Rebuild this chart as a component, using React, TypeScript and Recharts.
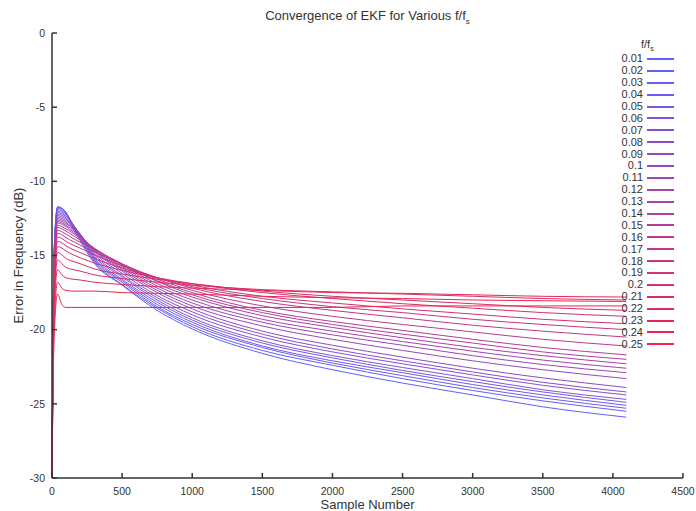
import React from "react";
import { LineChart, Line, XAxis, YAxis, Legend } from "recharts";

const sampleX = [0, 15, 40, 70, 100, 150, 200, 300, 500, 750, 1000, 1500, 2000, 2500, 3000, 3500, 4096];

const ratioLabels = [
  "0.01", "0.02", "0.03", "0.04", "0.05", "0.06", "0.07", "0.08", "0.09", "0.1",
  "0.11", "0.12", "0.13", "0.14", "0.15", "0.16", "0.17", "0.18", "0.19", "0.2",
  "0.21", "0.22", "0.23", "0.24", "0.25",
];

const err01 = [-30, -14.7, -11.7, -11.8, -12.1, -13.1, -14.0, -15.5, -17.0, -18.7, -19.95, -21.6, -22.7, -23.6, -24.4, -25.2, -25.9];
const err02 = [-30, -14.75, -11.75, -11.85, -12.1, -13.0, -13.85, -15.4, -16.95, -18.55, -19.8, -21.4, -22.4, -23.3, -24.1, -24.8, -25.5];
const err03 = [-30, -14.8, -11.8, -11.9, -12.15, -12.95, -13.75, -15.3, -16.8, -18.45, -19.65, -21.2, -22.25, -23.1, -23.9, -24.6, -25.3];
const err04 = [-30, -14.9, -11.9, -12.0, -12.2, -12.9, -13.65, -15.2, -16.7, -18.3, -19.5, -21.1, -22.1, -22.9, -23.7, -24.4, -25.1];
const err05 = [-30, -15.0, -12.0, -12.1, -12.3, -12.9, -13.6, -15.1, -16.6, -18.15, -19.35, -20.9, -21.9, -22.75, -23.5, -24.2, -24.9];
const err06 = [-30, -15.1, -12.1, -12.2, -12.35, -12.95, -13.55, -15.0, -16.45, -18.0, -19.2, -20.75, -21.75, -22.55, -23.3, -24.05, -24.7];
const err07 = [-30, -15.2, -12.2, -12.3, -12.45, -13.0, -13.55, -14.9, -16.35, -17.85, -19.0, -20.5, -21.5, -22.3, -23.05, -23.75, -24.4];
const err08 = [-30, -15.3, -12.3, -12.4, -12.55, -13.05, -13.55, -14.8, -16.2, -17.7, -18.8, -20.3, -21.3, -22.1, -22.85, -23.55, -24.2];
const err09 = [-30, -15.4, -12.4, -12.5, -12.65, -13.1, -13.6, -14.7, -16.05, -17.5, -18.6, -20.1, -21.05, -21.85, -22.6, -23.25, -23.9];
const err10 = [-30, -15.5, -12.5, -12.6, -12.75, -13.15, -13.6, -14.65, -15.95, -17.35, -18.4, -19.75, -20.65, -21.4, -22.1, -22.7, -23.3];
const err11 = [-30, -15.6, -12.6, -12.7, -12.85, -13.2, -13.65, -14.6, -15.85, -17.2, -18.2, -19.5, -20.35, -21.05, -21.75, -22.35, -22.9];
const err12 = [-30, -15.7, -12.7, -12.8, -12.95, -13.3, -13.7, -14.55, -15.75, -17.05, -18.0, -19.3, -20.1, -20.8, -21.45, -22.05, -22.6];
const err13 = [-30, -15.8, -12.8, -12.9, -13.05, -13.4, -13.75, -14.5, -15.65, -16.9, -17.8, -19.05, -19.85, -20.55, -21.2, -21.75, -22.3];
const err14 = [-30, -15.95, -12.95, -13.05, -13.2, -13.5, -13.85, -14.5, -15.6, -16.75, -17.65, -18.85, -19.65, -20.3, -20.9, -21.5, -22.0];
const err15 = [-30, -16.1, -13.1, -13.2, -13.35, -13.65, -13.95, -14.55, -15.6, -16.7, -17.5, -18.7, -19.45, -20.05, -20.65, -21.2, -21.7];
const err16 = [-30, -16.3, -13.3, -13.4, -13.55, -13.85, -14.1, -14.6, -15.55, -16.6, -17.35, -18.4, -19.1, -19.65, -20.15, -20.65, -21.1];
const err17 = [-30, -16.5, -13.5, -13.6, -13.8, -14.05, -14.3, -14.75, -15.6, -16.5, -17.2, -18.1, -18.7, -19.2, -19.7, -20.1, -20.5];
const err18 = [-30, -16.75, -13.75, -13.85, -14.05, -14.3, -14.5, -14.95, -15.7, -16.5, -17.1, -17.9, -18.45, -18.85, -19.3, -19.65, -20.0];
const err19 = [-30, -17.05, -14.05, -14.15, -14.35, -14.6, -14.8, -15.2, -15.85, -16.5, -17.0, -17.75, -18.2, -18.6, -18.95, -19.3, -19.6];
const err20 = [-30, -17.4, -14.4, -14.5, -14.7, -14.95, -15.15, -15.5, -16.0, -16.5, -16.9, -17.5, -17.9, -18.25, -18.55, -18.85, -19.1];
const err21 = [-30, -17.8, -14.8, -14.95, -15.2, -15.4, -15.55, -15.9, -16.25, -16.6, -16.9, -17.4, -17.75, -18.0, -18.25, -18.5, -18.7];
const err22 = [-30, -18.3, -15.3, -15.55, -15.8, -15.95, -16.05, -16.3, -16.55, -16.8, -17.0, -17.3, -17.45, -17.6, -17.75, -17.9, -18.0];
const err23 = [-30, -18.95, -15.95, -16.3, -16.5, -16.6, -16.65, -16.8, -16.95, -17.1, -17.2, -17.35, -17.5, -17.55, -17.65, -17.75, -17.8];
const err24 = [-30, -19.8, -16.8, -17.2, -17.35, -17.4, -17.4, -17.4, -17.5, -17.55, -17.6, -17.75, -17.85, -17.9, -18.0, -18.05, -18.1];
const err25 = [-30, -20.6, -17.6, -18.3, -18.5, -18.5, -18.5, -18.5, -18.5, -18.5, -18.5, -18.5, -18.5, -18.4, -18.4, -18.4, -18.4];

const errSeries = [
  err01, err02, err03, err04, err05, err06, err07, err08, err09, err10,
  err11, err12, err13, err14, err15, err16, err17, err18, err19, err20,
  err21, err22, err23, err24, err25,
];

const xTicks = [0, 500, 1000, 1500, 2000, 2500, 3000, 3500, 4000, 4500];
const yTicks = [-30, -25, -20, -15, -10, -5, 0];

const data = sampleX.map((x, k) => {
  const row: Record<string, number> = { x };
  errSeries.forEach((s, i) => {
    row["s" + i] = s[k];
  });
  return row;
});

// blue -> red ramp (a bit washed out, like the original thin lines)
const lineColor = (i: number) => {
  const t = i / (errSeries.length - 1);
  const r = Math.round(95 + 145 * t);
  const g = Math.round(95 * (1 - t) + 35 * t);
  const b = Math.round(255 * (1 - t) + 75 * t);
  return `rgb(${r},${g},${b})`;
};

const font = '"Liberation Sans", Arial, sans-serif';
const axisColor = "#333";

const renderLegend = (props: any) => {
  const payload = props.payload || [];
  return (
    <div style={{ fontFamily: font, fontSize: 11, color: "#333", lineHeight: 1 }}>
      <div style={{ height: 15, paddingLeft: 42, display: "flex", alignItems: "center" }}>
        <span>
          f/f<sub style={{ fontSize: 7 }}>s</sub>
        </span>
      </div>
      {payload.map((entry: any, i: number) => (
        <div key={i} style={{ height: 11.9, display: "flex", alignItems: "center" }}>
          <span style={{ width: 44, textAlign: "right" }}>{entry.value}</span>
          <span
            style={{
              width: 27,
              marginLeft: 4,
              borderTop: `2px solid ${entry.color}`,
            }}
          />
        </div>
      ))}
    </div>
  );
};

export default function App() {
  return (
    <div style={{ position: "absolute", left: 0, top: 0, width: 696, height: 511, background: "#fff" }}>
      <div
        style={{
          position: "absolute",
          left: 52,
          width: 631,
          top: 8,
          textAlign: "center",
          fontFamily: font,
          fontSize: 13,
          color: "#333",
          lineHeight: "16px",
        }}
      >
        Convergence of EKF for Various f/f<sub style={{ fontSize: 8 }}>s</sub>
      </div>
      <LineChart width={696} height={511} data={data} margin={{ top: 33, right: 13, bottom: 0, left: 0 }}>
        <XAxis
          dataKey="x"
          type="number"
          domain={[0, 4500]}
          ticks={xTicks}
          height={33}
          tickSize={-5}
          tickMargin={15}
          stroke={axisColor}
          strokeWidth={1.5}
          tick={{ fill: "#333", fontSize: 10.5, fontFamily: font }}
          label={{
            content: (p: any) => (
              <text
                x={p.viewBox.x + p.viewBox.width / 2}
                y={p.viewBox.y + 31}
                textAnchor="middle"
                fill="#333"
                fontSize={13}
                fontFamily={font}
              >
                Sample Number
              </text>
            ),
          }}
        />
        <XAxis
          xAxisId="top"
          orientation="top"
          type="number"
          domain={[0, 4500]}
          ticks={xTicks}
          height={0}
          tickSize={-5}
          tickFormatter={() => ""}
          stroke={axisColor}
          strokeWidth={1.5}
        />
        <YAxis
          type="number"
          domain={[-30, 0]}
          ticks={yTicks}
          width={52}
          tickSize={-5}
          tickMargin={12}
          stroke={axisColor}
          strokeWidth={1.5}
          tick={{ fill: "#333", fontSize: 10.5, fontFamily: font }}
          label={{
            content: (p: any) => {
              const cx = p.viewBox.x + 18;
              const cy = p.viewBox.y + p.viewBox.height / 2;
              return (
                <text
                  x={cx}
                  y={cy}
                  transform={`rotate(-90, ${cx}, ${cy})`}
                  textAnchor="middle"
                  dominantBaseline="central"
                  fill="#333"
                  fontSize={13}
                  fontFamily={font}
                >
                  Error in Frequency (dB)
                </text>
              );
            },
          }}
        />
        <YAxis
          yAxisId="right"
          orientation="right"
          type="number"
          domain={[-30, 0]}
          ticks={yTicks}
          width={0}
          tickSize={-5}
          tickFormatter={() => ""}
          stroke={axisColor}
          strokeWidth={1.5}
        />
        {errSeries.map((_, i) => (
          <Line
            key={i}
            type="monotone"
            dataKey={"s" + i}
            name={ratioLabels[i]}
            stroke={lineColor(i)}
            strokeWidth={1}
            dot={false}
            isAnimationActive={false}
          />
        ))}
        <Legend
          layout="horizontal"
          verticalAlign="middle"
          align="center"
          content={renderLegend}
          wrapperStyle={{ left: 599, top: 38, width: 80 }}
        />
      </LineChart>
    </div>
  );
}
